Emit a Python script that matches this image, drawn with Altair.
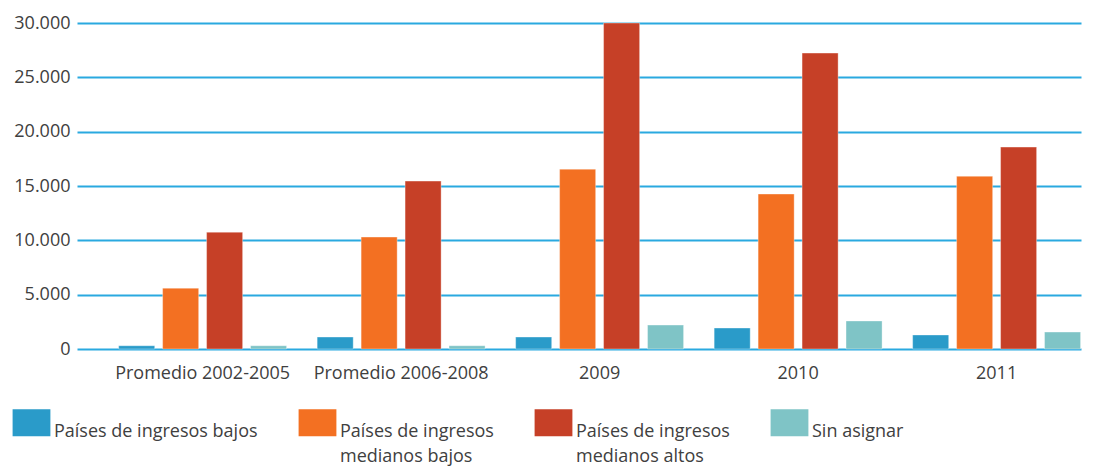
import altair as alt
import pandas as pd

categories = ["Promedio 2002-2005", "Promedio 2006-2008", "2009", "2010", "2011"]
series = [
    "Países de ingresos bajos",
    "Países de ingresos medianos bajos",
    "Países de ingresos medianos altos",
    "Sin asignar",
]
colors = ["#2A9BC9", "#F37022", "#C64027", "#7FC4C6"]

bajos = [300, 1100, 1100, 1930, 1290]
medianos_bajos = [5600, 10300, 16550, 14260, 15900]
medianos_altos = [10750, 15450, 30000, 27230, 18580]
sin_asignar = [300, 300, 2200, 2580, 1560]

rows = []
for s, vals in zip(series, [bajos, medianos_bajos, medianos_altos, sin_asignar]):
    for c, v in zip(categories, vals):
        rows.append({"categoria": c, "serie": s, "valor": v})
df = pd.DataFrame(rows)

FONT = "Open Sans"
TXT = "#404040"

chart = alt.Chart(df).mark_bar(stroke="white", strokeOpacity=0.35, strokeWidth=1).encode(
    x=alt.X(
        "categoria:N",
        sort=categories,
        title=None,
        scale=alt.Scale(paddingInner=0.154, paddingOuter=0.106, align=0.99),
        axis=alt.Axis(
            labelAngle=0, domain=False, ticks=False, grid=False,
            labelFont=FONT, labelFontSize=18, labelColor=TXT, labelPadding=15,
        ),
    ),
    xOffset=alt.XOffset("serie:N", sort=series, scale=alt.Scale(paddingInner=0.18)),
    y=alt.Y(
        "valor:Q",
        title=None,
        scale=alt.Scale(domain=[0, 30000], nice=False),
        axis=alt.Axis(
            values=[0, 5000, 10000, 15000, 20000, 25000, 30000],
            labelExpr="replace(format(datum.value, ','), ',', '.')",
            domain=False, ticks=False, grid=True,
            gridColor="#2AA9E0", gridWidth=2, gridOpacity=1,
            labelFont=FONT, labelFontSize=18, labelColor=TXT, labelPadding=7,
        ),
    ),
    color=alt.Color(
        "serie:N",
        sort=series,
        scale=alt.Scale(domain=series, range=colors),
        legend=alt.Legend(
            orient="none", legendX=-59, legendY=386,
            direction="horizontal", columns=4, title=None,
            symbolType="M-1.4,-1H1.4V1H-1.4Z", symbolSize=729,
            symbolStrokeWidth=0, symbolOpacity=1,
            labelFont=FONT, labelFontSize=18, labelColor=TXT,
            labelOffset=9, columnPadding=40, labelLimit=400,
            labelBaseline="top",
            labelExpr="indexof(datum.label, 'medianos') > 0 ? [substring(datum.label, 0, 18), substring(datum.label, 19)] : [datum.label, '']",
        ),
    ),
).properties(
    width=1004, height=326,
    padding={"left": 5, "top": 6, "right": 0, "bottom": 0},
).configure_view(stroke=None)

chart.config.style = {"guide-label": {"lineHeight": 25}}

chart.save("out.html", embed_options={"renderer": "svg", "actions": False})
